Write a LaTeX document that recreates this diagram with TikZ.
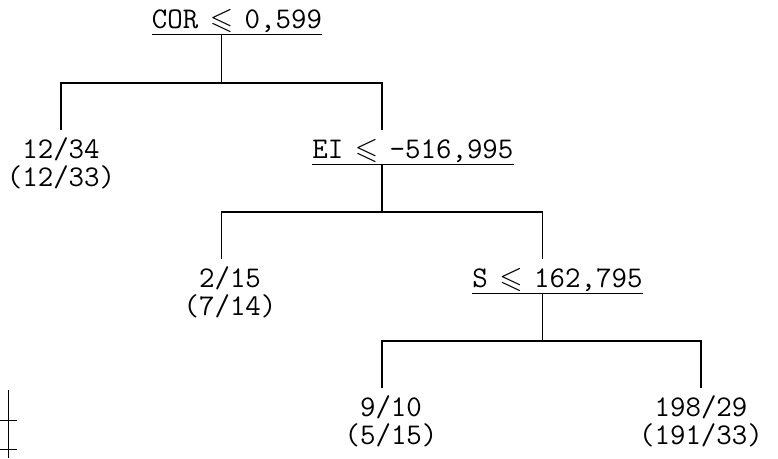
\documentclass[tikz,border=0pt]{standalone}
\usepackage{amsmath}
\usepackage{amssymb}
\usepackage{fontspec}
\usepackage{tikz}
\usetikzlibrary{positioning}
\newcommand{\lesym}{\makebox[\fontcharwd\font`0]{$\boldsymbol{\leqslant}$}}
\newcommand{\leafstrut}{\rule{0pt}{0.56cm}}
\tikzset{
  treeline/.style={line width=0.6pt,draw=black},
  splitnode/.style={inner sep=0pt,anchor=base west,text height=0.56cm,text depth=0.12cm,
    font=\fontsize{17.1pt}{16pt}\selectfont\ttfamily},
  leafnode/.style={inner sep=0pt,anchor=north,align=center,
    font=\fontsize{17.1pt}{16pt}\selectfont\ttfamily}
}

\begin{document}
\begin{tikzpicture}[x=0.02cm,y=-0.02cm]
\useasboundingbox (0,0) rectangle (778,458);
% forks of the tree
\coordinate (f1) at (221.5,83);
\coordinate (f2) at (382,212);
\coordinate (f3) at (542.5,341);
% tests
\node[splitnode] (cor) at (151.5,28) {COR \lesym{} 0,599};
\node[splitnode] (ei) at (312,158) {EI \lesym{} -516,995};
\node[splitnode] (s) at (472,287) {S \lesym{} 162,795};
% leaves
\node[leafnode] (l1) at (61,130) {\leafstrut 12/34\\(12/33)};
\node[leafnode] (l2) at (230,259) {\leafstrut 2/15\\(7/14)};
\node[leafnode] (l3) at (391,388) {\leafstrut 9/10\\(5/15)};
\node[leafnode] (l4) at (701,388) {\leafstrut 198/29\\(191/33)};
% branches
\draw[treeline] (cor.south west) -- (cor.south east);
\draw[treeline] (cor.south -| f1) -- (f1);
\draw[treeline] (l1.north) |- (f1) -| (ei.north -| f2);
\draw[treeline] (ei.south west) -- (ei.south east);
\draw[treeline] (ei.south -| f2) -- (f2);
\draw[treeline] (l2.north -| f1) |- (f2) -| (s.north -| f3);
\draw[treeline] (s.south west) -- (s.south east);
\draw[treeline] (s.south -| f3) -- (f3);
\draw[treeline] (l3.north -| f2) |- (f3) -| (l4.north);
% marks in the margin
\draw[thin] (8,390) -- (8,458);
\draw[thin] (0,420) -- (17,420);
\draw[thin] (0,449) -- (17,449);
\end{tikzpicture}
\end{document}
